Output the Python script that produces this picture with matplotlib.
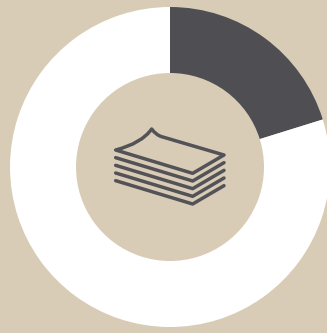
import matplotlib
matplotlib.use('Agg')
import matplotlib.pyplot as plt
from matplotlib.path import Path
from matplotlib.patches import PathPatch

# share of the ring, clockwise from 12 o'clock
values = [20.2, 79.8]
colors = ['#4f4e53', '#ffffff']
bg = '#d8ccb6'
ink = '#535257'

W, H = 327, 333

fig = plt.figure(figsize=(W/100, H/100), dpi=100, facecolor=bg)
ax = fig.add_axes([0, 0, 1, 1])

ax.pie(values, colors=colors, startangle=90, counterclock=False,
       center=(170, H-167), radius=160, wedgeprops={'width': 66, 'linewidth': 0})
ax.set_xlim(0, W)
ax.set_ylim(0, H)
ax.set_aspect('equal')
ax.axis('off')

# stack of paper icon in the hole
def px(x, y):
    return (100 + x/3, H - (115 + y/3))

top_sheet = Path(
    [px(47, 105), px(278, 175), px(372, 120), px(185, 65),
     px(168, 60), px(155, 42),
     px(125, 85), px(47, 105), px(47, 105)],
    [Path.MOVETO, Path.LINETO, Path.LINETO, Path.LINETO,
     Path.CURVE3, Path.CURVE3,
     Path.CURVE3, Path.CURVE3, Path.CLOSEPOLY])
ax.add_patch(PathPatch(top_sheet, fc='none', ec=ink, lw=2.5, joinstyle='round', capstyle='round'))

for dy in [23, 46, 69, 92]:
    xs, ys = zip(px(47, 105+dy), px(278, 175+dy), px(372, 120+dy))
    ax.plot(xs, ys, color=ink, lw=2.5, solid_capstyle='round', solid_joinstyle='round')

fig.savefig('out.png', dpi=100, facecolor=bg)
